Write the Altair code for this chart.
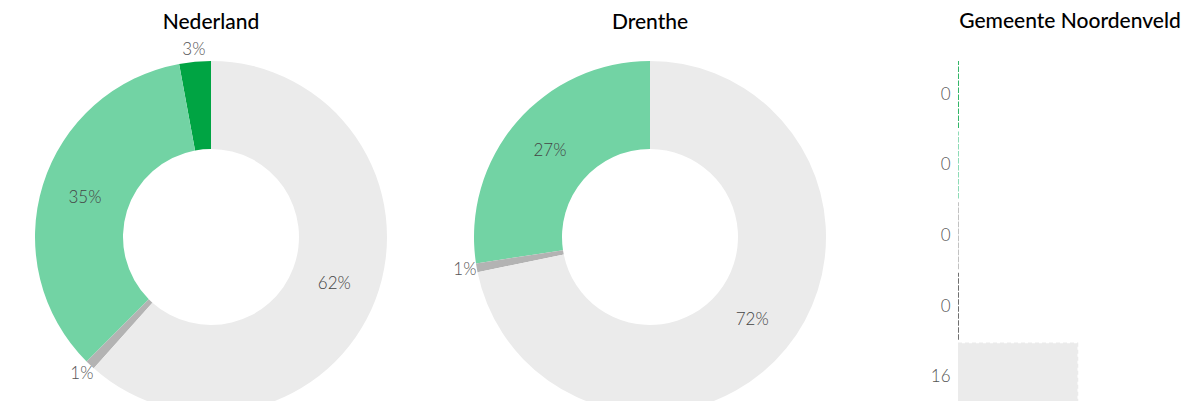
import altair as alt
import pandas as pd

# --- data -------------------------------------------------------------
categories = ["Groen donker", "Groen licht", "Grijs", "Donkergrijs", "Lichtgrijs"]
colors = ["#00a443", "#72d3a4", "#b3b3b3", "#4d4d4d", "#ebebeb"]
donut_order = [4, 3, 2, 5, 1]          # clockwise position in the donuts
nl_values = [2.9, 34.6, 0.9, 0.0, 61.6]  # Nederland (%)
dr_values = [0.0, 27.4, 0.8, 0.0, 71.8]  # Drenthe (%)
gem_values = [0, 0, 0, 0, 16]            # Gemeente Noordenveld (aantal)
titles = ["Nederland", "Drenthe", "Gemeente Noordenveld"]

FONT = "Lato"
VIEW_H = 340
color_scale = alt.Scale(domain=categories, range=colors)


def title_params(text, offset):
    return alt.TitleParams(text, fontSize=21, font=FONT, fontWeight=500,
                           color="#000", offset=offset, frame="group")


def donut_df(values):
    return pd.DataFrame({
        "cat": categories,
        "value": values,
        "ord": donut_order,
        "label": [f"{round(v)}%" for v in values],
    })


def donut(values, title, width):
    df = donut_df(values)
    base = alt.Chart(df).transform_calculate(
        big="datum.value >= 5 ? datum.label : ''",
        small="datum.value > 0 && datum.value < 5 ? datum.label : ''",
    ).encode(
        theta=alt.Theta("value:Q", stack=True),
        order=alt.Order("ord:Q"),
        y=alt.value(176),
    )
    arcs = base.mark_arc(innerRadius=88, outerRadius=176, clip=True).encode(
        color=alt.Color("cat:N", scale=color_scale, legend=None)
    )
    big = base.mark_text(
        radius=132, font=FONT, fontSize=17, fill="#444", fontWeight=300
    ).encode(text="big:N")
    small = base.mark_text(
        radius=188, font=FONT, fontSize=17, fill="#555", fontWeight=300
    ).encode(text="small:N")
    return alt.layer(arcs, big, small).properties(
        width=width, height=VIEW_H, title=title_params(title, 7)
    )


bar_df = pd.DataFrame({"cat": categories, "value": gem_values})
label_expr = (
    "[" + ",".join(f"'{v}'" for v in gem_values) + "]"
    + "[indexof([" + ",".join(f"'{c}'" for c in categories) + "], datum.value)]"
)
bars = alt.Chart(bar_df).mark_bar(strokeDash=[4, 3], strokeWidth=1.6, clip=True).encode(
    y=alt.Y("cat:N", sort=categories, title=None,
            scale=alt.Scale(paddingInner=0.04, paddingOuter=0, range=[0, 350]),
            axis=alt.Axis(domain=False, ticks=False, labelExpr=label_expr,
                          labelFont=FONT, labelFontSize=17, labelColor="#555",
                          labelFontWeight=300, labelPadding=8, minExtent=72)),
    x=alt.X("value:Q", title=None, axis=None,
            scale=alt.Scale(domain=[0, 30], nice=False)),
    color=alt.Color("cat:N", scale=color_scale, legend=None),
    stroke=alt.Stroke("cat:N", scale=color_scale, legend=None),
).properties(width=224, height=VIEW_H, title=title_params(titles[2], 29))

chart = alt.hconcat(
    donut(nl_values, titles[0], 406),
    donut(dr_values, titles[1], 412),
    bars,
    spacing=30,
).properties(
    padding={"left": 0, "top": 3, "right": 0, "bottom": 0}
).configure_view(stroke=None)

chart.save("out.html", embed_options={"renderer": "svg", "actions": False})
